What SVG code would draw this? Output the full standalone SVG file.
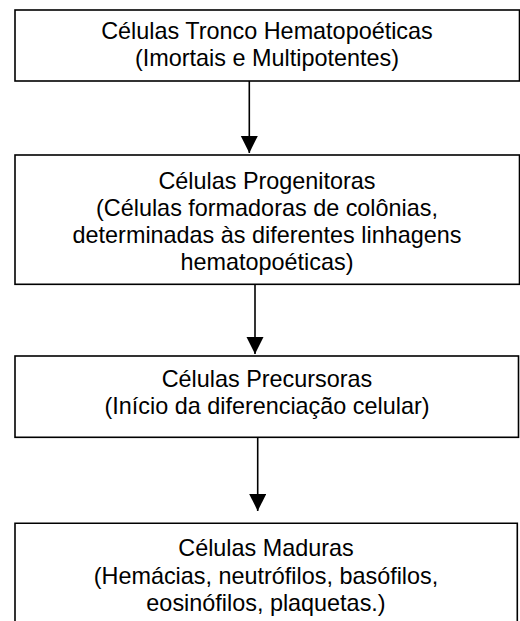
<svg xmlns="http://www.w3.org/2000/svg" width="520" height="621" viewBox="0 0 520 621">
<style>
.box{fill:#fff;stroke:#000;stroke-width:1.6}
.t{font-family:"Liberation Sans",Arial,sans-serif;font-size:23.4px;fill:#000;text-anchor:middle}
.c{stroke:#000;stroke-width:1.6;fill:none}
</style>
<defs>
<marker id="ah" markerUnits="userSpaceOnUse" markerWidth="18" markerHeight="18" refX="17" refY="8.5" orient="auto">
<path d="M0,0 L17,8.5 L0,17 z" fill="#000"/>
</marker>
</defs>
<rect width="520" height="621" fill="#fff"/>
<g id="connectors">
<line class="c" x1="249.3" y1="81" x2="249.3" y2="153" marker-end="url(#ah)"/>
<line class="c" x1="255" y1="284.3" x2="255" y2="354" marker-end="url(#ah)"/>
<line class="c" x1="257.7" y1="437.3" x2="257.7" y2="511" marker-end="url(#ah)"/>
</g>
<g id="n1">
<rect class="box" x="15" y="10" width="504.5" height="71"/>
<text class="t" x="267" y="39">Células Tronco Hematopoéticas</text>
<text class="t" x="267" y="66">(Imortais e Multipotentes)</text>
</g>
<g id="n2">
<rect class="box" x="15" y="155" width="504.5" height="129.3"/>
<text class="t" x="267" y="189">Células Progenitoras</text>
<text class="t" x="267" y="216">(Células formadoras de colônias,</text>
<text class="t" x="267" y="243">determinadas às diferentes linhagens</text>
<text class="t" x="267" y="270">hematopoéticas)</text>
</g>
<g id="n3">
<rect class="box" x="15" y="356" width="503.5" height="81.3"/>
<text class="t" x="267" y="387">Células Precursoras</text>
<text class="t" x="267" y="414">(Início da diferenciação celular)</text>
</g>
<g id="n4">
<path class="box" d="M15,630 L15,523.3 L517.3,523.3 L517.3,630"/>
<text class="t" x="266" y="556">Células Maduras</text>
<text class="t" x="266" y="584">(Hemácias, neutrófilos, basófilos,</text>
<text class="t" x="266" y="611">eosinófilos, plaquetas.)</text>
</g>
</svg>
